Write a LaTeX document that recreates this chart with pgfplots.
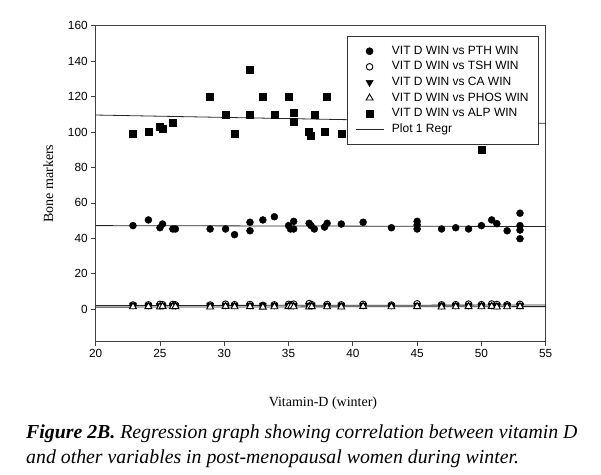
\documentclass[border=0pt]{standalone}
\usepackage{pgfplots}
\pgfplotsset{compat=1.18}
\usepackage{fontspec}
\setmainfont{Liberation Sans}
\newfontfamily\tnr{Liberation Serif}

% PTH (filled circles)
\pgfplotstableread{
x y
22.9 47.2
24.1 50.4
25.0 46.0
25.2 48.1
26.0 45.3
26.2 45.3
28.9 45.3
30.1 45.3
30.8 42.1
32.0 49.1
32.0 44.3
33.0 50.4
33.9 52.2
35.0 47.2
35.15 45.3
35.4 49.6
35.4 45.3
36.6 48.5
36.75 47.2
37.0 45.3
37.8 46.4
38.0 48.5
39.1 48.1
40.8 49.1
43.0 46.0
45.0 49.6
45.0 47.6
45.0 45.3
46.9 45.3
48.0 46.0
49.0 45.3
50.0 47.2
50.8 50.4
51.2 48.3
52.0 44.3
53.0 54.2
53.0 47.2
53.0 44.7
53.0 39.8
}\pth

% ALP (filled squares)
\pgfplotstableread{
x y
22.9 99
24.1 100
25.0 103
25.2 102
26.0 105
28.9 120
30.1 110
30.8 99
32.0 135
32.0 110
33.0 120
33.9 110
35.0 120
35.4 111
35.4 106
36.6 100
36.7 98
37.0 110
37.8 100
38.0 120
39.1 99
50.0 90
}\alp

% TSH, CA, PHOS (small values)
\pgfplotstableread{
x tsh ca phos
22.9 2.4 2.3 1.4
24.1 2.5 2.3 1.5
25.0 2.8 2.2 1.3
25.2 2.6 2.4 1.6
26.0 2.7 2.3 1.4
26.2 2.5 2.2 1.5
28.9 2.4 2.3 1.3
30.1 2.9 2.3 1.6
30.8 2.6 2.4 1.4
32.0 2.7 2.3 1.5
33.0 2.2 2.4 1.2
33.9 2.5 2.3 1.4
35.0 2.8 2.3 1.5
35.2 2.6 2.4 1.6
35.4 2.9 2.2 1.4
36.6 3.2 2.3 1.3
36.8 2.6 2.3 1.5
38.0 2.7 2.3 1.4
39.1 2.5 2.4 1.3
40.8 2.8 2.3 1.6
43.0 2.4 2.3 1.4
45.0 3.1 2.4 1.5
46.9 2.5 2.3 1.3
48.0 2.6 2.3 1.4
49.0 2.9 2.3 1.5
50.0 2.6 2.4 1.4
50.8 3.0 2.3 1.6
51.2 2.7 2.3 1.3
52.0 2.5 2.4 1.4
53.0 2.8 2.3 1.5
}\small

\begin{document}
\begin{tikzpicture}
\path[use as bounding box] (0,0) rectangle (601pt,474pt);
\begin{axis}[
  at={(95.7pt,132.3pt)}, anchor=south west,
  scale only axis, width=450pt, height=316pt,
  xmin=20, xmax=55, ymin=-18.3, ymax=160,
  xtick={20,25,...,55}, ytick={0,20,...,160},
  tick align=outside, xtick pos=bottom, ytick pos=left,
  major tick length=4.5pt,
  axis line style={black!75, line width=0.8pt},
  every tick/.style={black!75, line width=0.8pt},
  /pgf/number format/assume math mode=true,
  ticklabel style={font=\fontsize{11.8}{13}\selectfont},
  xlabel={Vitamin-D (winter)},
  ylabel={Bone markers},
  every axis x label/.style={at={(axis description cs:0.505,-0.2035)}, anchor=base,
    font=\tnr\fontsize{14}{16}\selectfont},
  every axis y label/.style={at={(axis description cs:-0.105,0.5)}, rotate=90, anchor=center,
    font=\tnr\fontsize{14}{16}\selectfont},
  legend cell align=left,
  legend image code/.code={\draw[mark repeat=2,mark phase=2] plot coordinates {(0pt,0pt) (14pt,0pt) (28pt,0pt)};},
  legend style={at={(0.985,0.967)}, anchor=north east, draw=black!80, line width=0.6pt,
    font=\fontsize{12}{13}\selectfont, inner xsep=8pt, inner ysep=7pt, row sep=0pt,
    nodes={text height=8.6pt, text depth=2.4pt, inner ysep=2.3pt},
    /tikz/every odd column/.append style={column sep=6pt}},
]
\addplot[only marks, mark=*, mark size=3.5pt, black] table[x=x,y=y] {\pth};
\addplot[only marks, mark=o, mark size=3.3pt, black, mark options={fill=white, line width=0.9pt}] table[x=x,y=tsh] {\small};
\addplot[only marks, mark=triangle*, mark size=4pt, black, mark options={rotate=180}] table[x=x,y=ca] {\small};
\addplot[only marks, mark=triangle*, mark size=4pt, black, mark options={fill=white, line width=0.9pt}] table[x=x,y=phos] {\small};
\addplot[only marks, mark=square*, mark size=3.5pt, black] table[x=x,y=y] {\alp};
\addplot[black!85, line width=0.8pt] coordinates {(20,47.2) (55,46.7)};
\addplot[black!85, line width=0.8pt, forget plot] coordinates {(20,109.6) (55,104.9)};
\addplot[black!85, line width=0.8pt, forget plot] coordinates {(20,2.1) (55,2.4)};
\addplot[black!85, line width=0.8pt, forget plot] coordinates {(20,1.2) (55,1.5)};
\legend{VIT D WIN vs PTH WIN, VIT D WIN vs TSH WIN, VIT D WIN vs CA WIN, VIT D WIN vs PHOS WIN, VIT D WIN vs ALP WIN, Plot 1 Regr}
\end{axis}
\node[anchor=base west, inner sep=0pt, font=\tnr\fontsize{19.8}{22}\selectfont\itshape] at (26pt,36pt) {\textbf{Figure 2B.} Regression graph showing correlation between vitamin D};
\node[anchor=base west, inner sep=0pt, font=\tnr\fontsize{19.8}{22}\selectfont\itshape] at (26pt,11pt) {and other variables in post-menopausal women during winter.};
\end{tikzpicture}
\end{document}
